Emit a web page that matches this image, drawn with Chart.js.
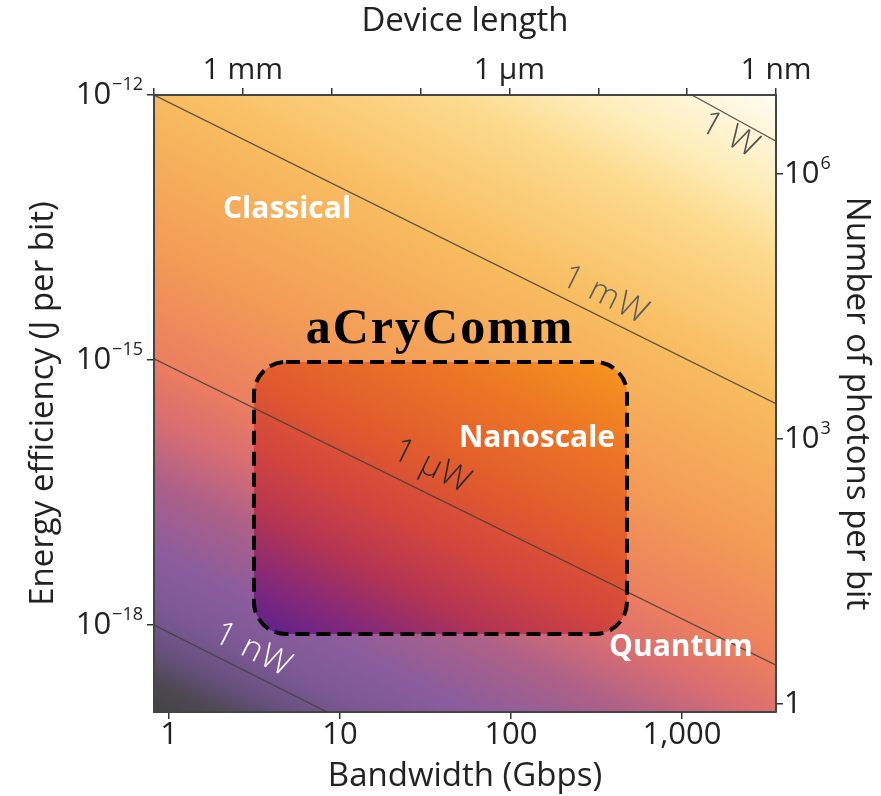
<!DOCTYPE html>
<html>
<head>
<meta charset="utf-8">
<title>aCryComm – energy efficiency vs bandwidth</title>
<style>
  html, body { margin: 0; padding: 0; background: #ffffff; }
  #wrap { width: 881px; height: 796px; }
</style>
<script src="https://cdn.jsdelivr.net/npm/chart.js@4.4.0/dist/chart.umd.min.js"></script>
</head>
<body>
<div id="wrap"><canvas id="chart" width="881" height="796"></canvas></div>
<script>
// axis ranges
const bandwidthRange = [0.817, 3548];     // Gbps
const energyRange = [1.035e-19, 1e-12];   // J per bit
const lengthRange = [1e-9, 1e-2];         // m (top axis, runs right to left)
const photonEnergy = 1.28e-19;            // J per photon, ties the right axis to the left one

// ticks
const bandwidthTicks = [1, 10, 100, 1000];
const bandwidthTickLabels = ['1', '10', '100', '1,000'];
const energyTicks = [1e-12, 1e-15, 1e-18];
const energyTickExp = ['\u221212', '\u221215', '\u221218'];
const photonTicks = [1e6, 1e3, 1];
const photonTickBase = ['10', '10', '1'];
const photonTickExp = ['6', '3', ''];
const lengthTicks = [1e-2, 1e-3, 1e-4, 1e-5, 1e-6, 1e-7, 1e-8, 1e-9];
const lengthLabelled = [1e-3, 1e-6, 1e-9];
const lengthLabels = ['1 mm', '1 \u00b5m', '1 nm'];

// constant power lines (bandwidth Gbps, energy J/bit at both ends)
const powerNames = ['1 W', '1 mW', '1 \u00b5W', '1 nW'];
const powerBandwidth = [[1143, 3548], [0.817, 3548], [0.817, 3548], [0.817, 8.4]];
const powerEnergy = [[1e-12, 3.0e-13], [1e-12, 3.2e-16], [1.03e-15, 3.5e-19], [1e-18, 1.035e-19]];

// aCryComm target region
const regionBandwidth = [3.14, 477];
const regionEnergy = [9.5e-16, 7.9e-19];

// text annotations, anchored in data units
const powerLabelBandwidth = [1910, 355, 34.5, 3.1];
const powerLabelEnergy = [3.5e-13, 5.4e-15, 6.2e-17, 5.2e-19];
const powerLabelColors = ['#505050', '#5c5c5c', '#2a2a2a', '#ffffff'];

const notes = [
  { text: 'Classical', x: 4.9, y: 5.0e-14, font: 'bold 30px "Open Sans"', color: '#ffffff', spacing: '0px' },
  { text: 'Nanoscale', x: 142, y: 1.28e-16, font: 'bold 30px "Open Sans"', color: '#ffffff', spacing: '0px' },
  { text: 'Quantum', x: 986, y: 5.5e-19, font: 'bold 30px "Open Sans"', color: '#ffffff', spacing: '0px' },
  { text: 'aCryComm', x: 38.5, y: 2.2e-15, font: 'bold 50px "Liberation Serif"', color: '#000000', spacing: '2px' }
];

// colour ramps along the axis perpendicular to the power lines
const bgStops = [
  [0.00, '#434343'], [0.035, '#4d4853'], [0.07, '#67507e'], [0.12, '#7e5896'],
  [0.17, '#8a5c9e'], [0.25, '#ad6089'], [0.325, '#dc6e70'], [0.385, '#ec7f5f'],
  [0.50, '#f39b56'], [0.665, '#f8bb5f'], [0.82, '#fcda8c'], [0.89, '#feecb8'],
  [1.00, '#fffcf2']
];
const boxStops = [
  [0.13, '#52208f'], [0.20, '#84287a'], [0.27, '#b43452'], [0.34, '#d2443e'],
  [0.42, '#e05a2e'], [0.52, '#ec7326'], [0.63, '#f6971e']
];

const FONT = '"Open Sans", "DejaVu Sans", sans-serif';
Chart.defaults.font.family = FONT;
Chart.defaults.color = '#222';

function sameDecade(a, b) {
  return Math.abs(Math.log10(a) - Math.log10(b)) < 1e-6;
}

// gradient axis: normal to the 1 mW line in pixel space
function powerGradient(chart, stops) {
  const { ctx, chartArea: a, scales } = chart;
  const x0 = scales.x.getPixelForValue(powerBandwidth[1][0]);
  const y0 = scales.y.getPixelForValue(powerEnergy[1][0]);
  const x1 = scales.x.getPixelForValue(powerBandwidth[1][1]);
  const y1 = scales.y.getPixelForValue(powerEnergy[1][1]);
  const len = Math.hypot(x1 - x0, y1 - y0);
  const nx = (y1 - y0) / len, ny = -(x1 - x0) / len;
  const L = (a.right - a.left) * nx + (a.top - a.bottom) * ny;
  const g = ctx.createLinearGradient(a.left, a.bottom, a.left + nx * L, a.bottom + ny * L);
  stops.forEach(([t, c]) => g.addColorStop(t, c));
  return g;
}

function roundRectPath(ctx, x, y, w, h, r) {
  ctx.beginPath();
  ctx.moveTo(x + r, y);
  ctx.arcTo(x + w, y, x + w, y + h, r);
  ctx.arcTo(x + w, y + h, x, y + h, r);
  ctx.arcTo(x, y + h, x, y, r);
  ctx.arcTo(x, y, x + w, y, r);
  ctx.closePath();
}

function regionRect(chart) {
  const { x, y } = chart.scales;
  const left = x.getPixelForValue(regionBandwidth[0]);
  const right = x.getPixelForValue(regionBandwidth[1]);
  const top = y.getPixelForValue(regionEnergy[0]);
  const bottom = y.getPixelForValue(regionEnergy[1]);
  return { left, top, w: right - left, h: bottom - top };
}

const backdrop = {
  id: 'backdrop',
  beforeDraw(chart) {
    const { ctx, chartArea: a } = chart;
    ctx.save();
    ctx.fillStyle = powerGradient(chart, bgStops);
    ctx.fillRect(a.left, a.top, a.right - a.left, a.bottom - a.top);
    const r = regionRect(chart);
    roundRectPath(ctx, r.left, r.top, r.w, r.h, 32);
    ctx.fillStyle = powerGradient(chart, boxStops);
    ctx.fill();
    ctx.restore();
  },
  afterDatasetsDraw(chart) {
    const { ctx, scales } = chart;
    ctx.save();
    // dashed outline of the region
    const r = regionRect(chart);
    roundRectPath(ctx, r.left, r.top, r.w, r.h, 32);
    ctx.setLineDash([14, 7]);
    ctx.lineWidth = 4;
    ctx.strokeStyle = '#000';
    ctx.stroke();
    ctx.setLineDash([]);

    // labels on the power lines, turned to follow them
    ctx.textAlign = 'center';
    ctx.textBaseline = 'middle';
    powerNames.forEach((name, i) => {
      const x0 = scales.x.getPixelForValue(powerBandwidth[i][0]);
      const y0 = scales.y.getPixelForValue(powerEnergy[i][0]);
      const x1 = scales.x.getPixelForValue(powerBandwidth[i][1]);
      const y1 = scales.y.getPixelForValue(powerEnergy[i][1]);
      const px = scales.x.getPixelForValue(powerLabelBandwidth[i]);
      const py = scales.y.getPixelForValue(powerLabelEnergy[i]);
      ctx.save();
      ctx.translate(px, py);
      ctx.rotate(Math.atan2(y1 - y0, x1 - x0));
      ctx.font = '300 34px ' + FONT;
      ctx.letterSpacing = '1px';
      ctx.fillStyle = powerLabelColors[i];
      ctx.fillText(name, 0, 0);
      ctx.restore();
    });

    notes.forEach(n => {
      ctx.font = n.font;
      ctx.letterSpacing = n.spacing;
      ctx.fillStyle = n.color;
      ctx.fillText(n.text, scales.x.getPixelForValue(n.x), scales.y.getPixelForValue(n.y));
    });
    ctx.letterSpacing = '0px';
    ctx.restore();
  },
  afterDraw(chart) {
    // powers of ten with real superscripts on both vertical axes
    const { ctx, scales } = chart;
    ctx.save();
    ctx.fillStyle = '#222';
    ctx.textBaseline = 'alphabetic';
    ctx.textAlign = 'left';
    const put = (base, sup, x, y, alignRight) => {
      ctx.font = '31px ' + FONT;
      const bw = ctx.measureText(base).width;
      ctx.font = '18px ' + FONT;
      const sw = sup ? ctx.measureText(sup).width + 1 : 0;
      const left = alignRight ? x - bw - sw : x;
      ctx.font = '31px ' + FONT;
      ctx.fillText(base, left, y + 9);
      if (sup) {
        ctx.font = '18px ' + FONT;
        ctx.fillText(sup, left + bw + 1, y - 5);
      }
    };
    energyTicks.forEach((v, i) => {
      put('10', energyTickExp[i], scales.y.left + 143, scales.y.getPixelForValue(v), true);
    });
    photonTicks.forEach((v, i) => {
      put(photonTickBase[i], photonTickExp[i], scales.y2.left + 8, scales.y2.getPixelForValue(v), false);
    });
    ctx.restore();
  }
};

const tickGrid = { drawOnChartArea: false, drawTicks: true, tickLength: 7, color: '#333', lineWidth: 1.5 };
const axisBorder = { display: true, color: '#454545', width: 2 };

const datasets = powerNames.map((name, i) => ({
  label: name,
  data: powerBandwidth[i].map((b, j) => ({ x: b, y: powerEnergy[i][j] })),
  showLine: true,
  pointRadius: 0,
  borderColor: 'rgba(60,60,60,0.85)',
  borderWidth: 1.2,
  xAxisID: 'x',
  yAxisID: 'y'
}));

new Chart(document.getElementById('chart'), {
  type: 'scatter',
  data: { datasets },
  options: {
    responsive: false,
    animation: false,
    layout: { padding: 0 },
    plugins: { legend: { display: false }, tooltip: { enabled: false } },
    scales: {
      x: {
        type: 'logarithmic', position: 'bottom',
        min: bandwidthRange[0], max: bandwidthRange[1],
        afterBuildTicks: s => { s.ticks = bandwidthTicks.map(v => ({ value: v })); },
        afterFit: s => { s.height = 84; },
        ticks: {
          autoSkip: false, maxRotation: 0, padding: 1,
          font: { size: 31, lineHeight: 1 }, color: '#222',
          callback: v => bandwidthTickLabels[bandwidthTicks.findIndex(t => sameDecade(t, v))] ?? ''
        },
        grid: tickGrid, border: axisBorder,
        title: { display: true, text: 'Bandwidth (Gbps)', font: { size: 33 }, color: '#222', padding: { top: 0, bottom: 0 } }
      },
      x2: {
        type: 'logarithmic', position: 'top', reverse: true,
        min: lengthRange[0], max: lengthRange[1],
        afterBuildTicks: s => { s.ticks = lengthTicks.map(v => ({ value: v })); },
        afterFit: s => { s.height = 95; },
        ticks: {
          autoSkip: false, maxRotation: 0, padding: 3,
          font: { size: 30, lineHeight: 1 }, color: '#222',
          callback: v => {
            const k = lengthLabelled.findIndex(t => sameDecade(t, v));
            return k >= 0 ? lengthLabels[k] : '';
          }
        },
        grid: tickGrid, border: axisBorder,
        title: { display: true, text: 'Device length', font: { size: 33 }, color: '#222', padding: { top: 2, bottom: 0 } }
      },
      y: {
        type: 'logarithmic', position: 'left',
        min: energyRange[0], max: energyRange[1],
        afterBuildTicks: s => { s.ticks = energyTicks.map(v => ({ value: v })); },
        afterFit: s => { s.width = 154; },
        ticks: { autoSkip: false, callback: () => '' },
        grid: tickGrid, border: axisBorder,
        title: { display: true, text: 'Energy efficiency (J per bit)', font: { size: 33 }, color: '#222', padding: { top: 24, bottom: 0 } }
      },
      y2: {
        type: 'logarithmic', position: 'right',
        min: energyRange[0] / photonEnergy, max: energyRange[1] / photonEnergy,
        afterBuildTicks: s => { s.ticks = photonTicks.map(v => ({ value: v })); },
        afterFit: s => { s.width = 105; },
        ticks: { autoSkip: false, callback: () => '' },
        grid: tickGrid, border: axisBorder,
        title: { display: true, text: 'Number of photons per bit', font: { size: 33 }, color: '#222', padding: { top: 5, bottom: 0 } }
      }
    }
  },
  plugins: [backdrop]
});
</script>
</body>
</html>
